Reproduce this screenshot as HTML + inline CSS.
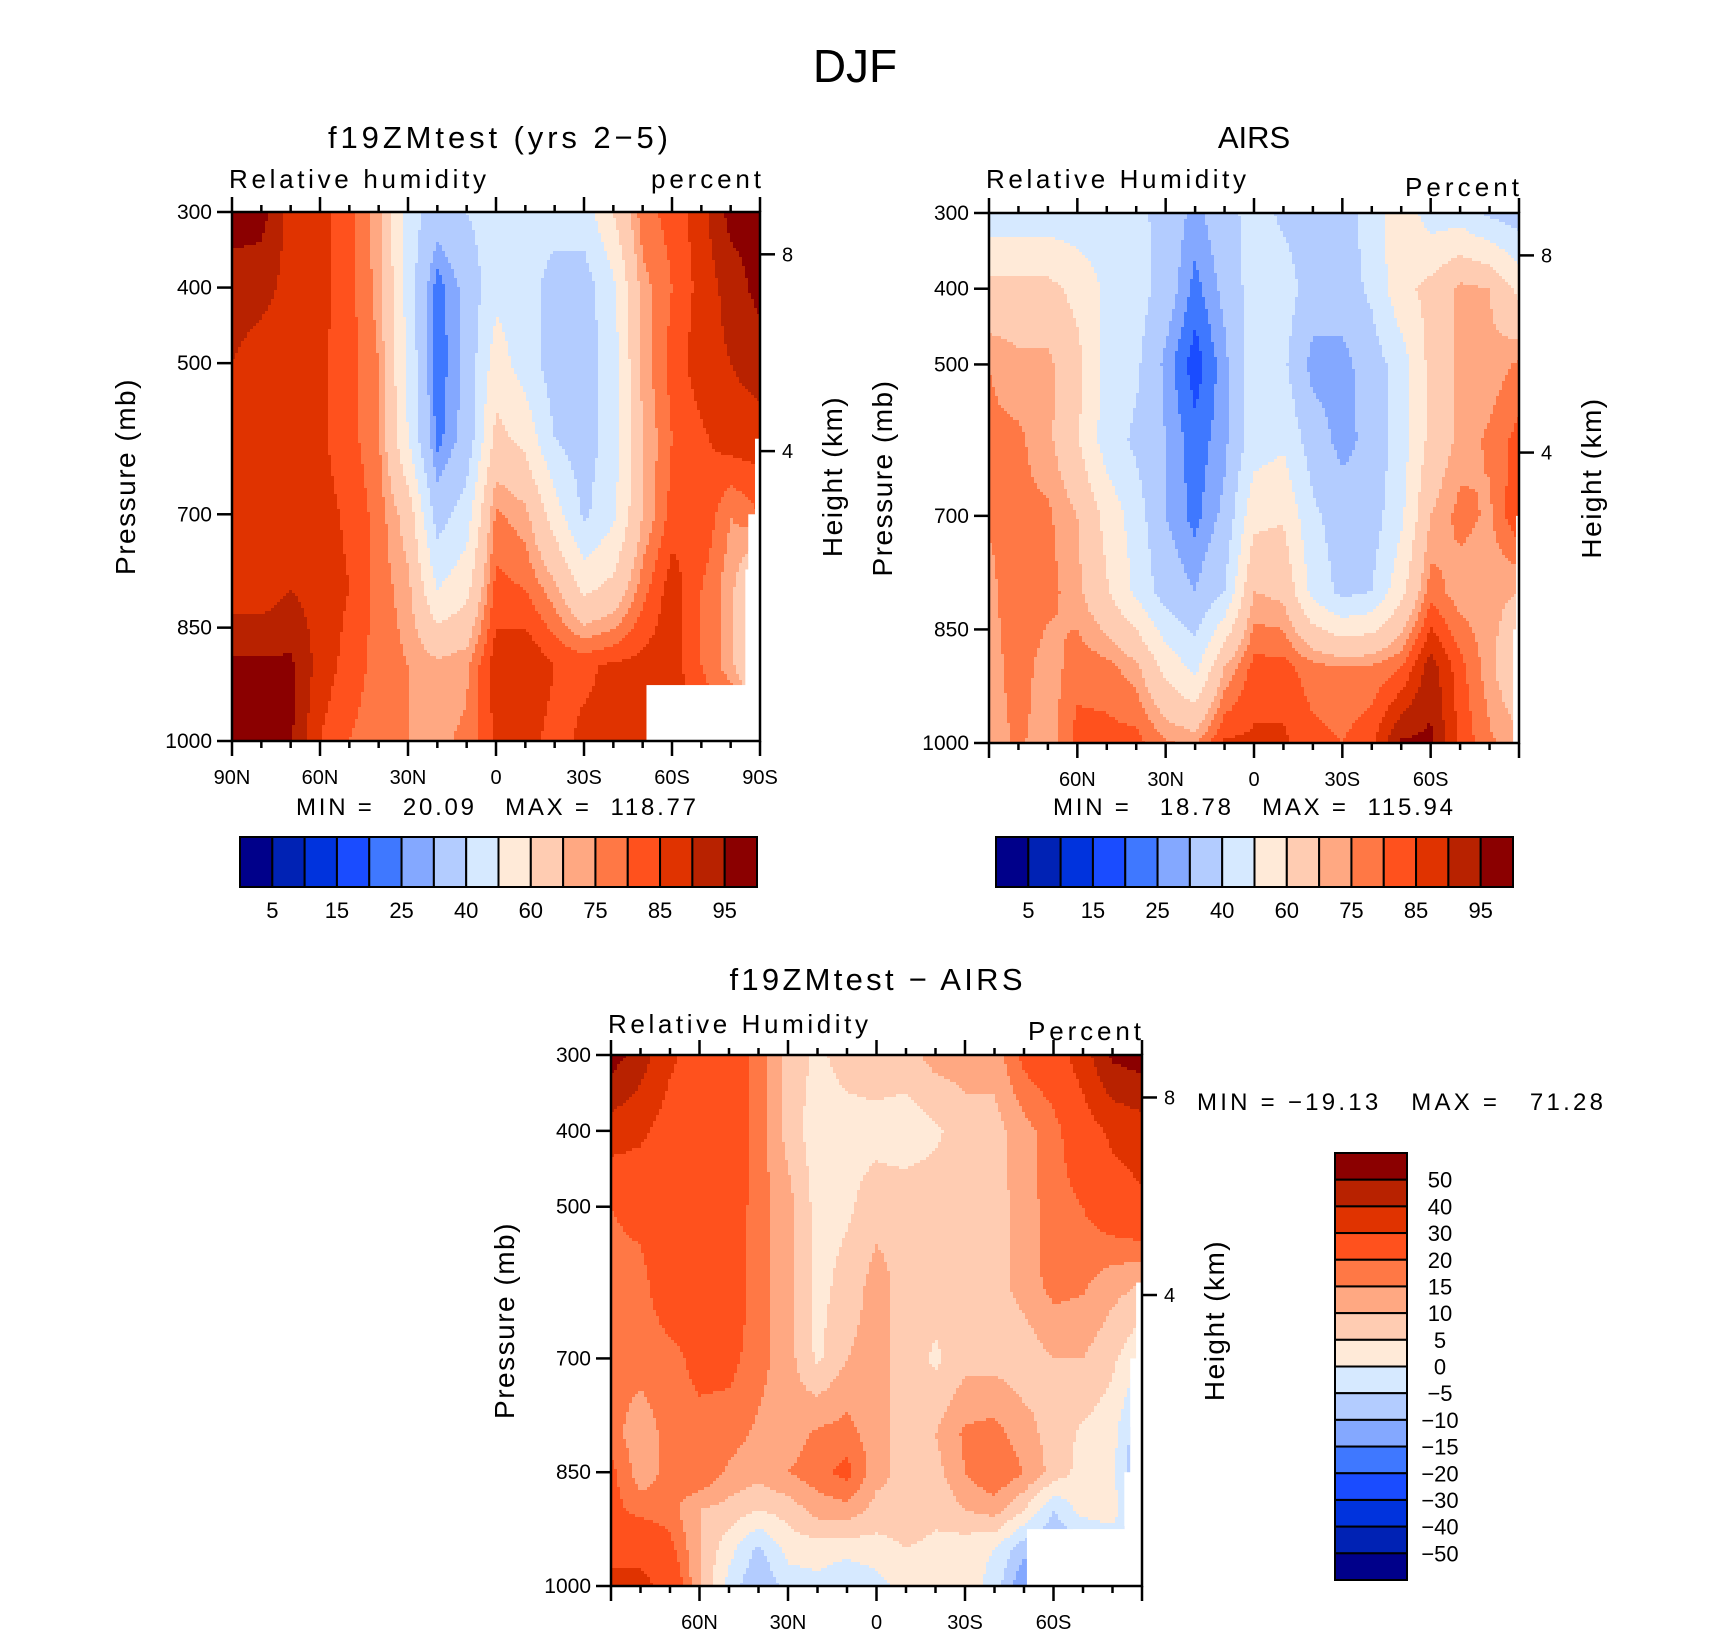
<!DOCTYPE html>
<html><head><meta charset="utf-8"><style>
html,body{margin:0;padding:0;background:#fff}
svg text{font-family:"Liberation Sans",sans-serif;fill:#000;white-space:pre}
</style></head><body>
<svg id="fig" width="1710" height="1631" viewBox="0 0 1710 1631" xmlns="http://www.w3.org/2000/svg">
<text x="855" y="82" font-size="46" text-anchor="middle">DJF</text>
<g id="p1"></g>
<g id="p2"></g>
<g id="p3"></g>
</svg>
<script>
const lats = [90,80,70,60,50,40,30,20,10,0,-10,-20,-30,-40,-50,-60,-70,-80,-90];
const pModel = [300,400,500,600,700,800,900,1000];
const model = [
[97,97,88,87,82,72,45,35,40,45,47,45,45,60,78,82,88,97,97],
[93,92,88,87,82,73,46,22,33,47,45,35,35,48,73,80,87,92,97],
[90,87,87,86,82,75,48,21,33,55,45,35,35,45,72,82,88,90,92],
[87,87,87,86,82,76,50,23,33,63,57,40,35,45,70,80,84,88,88],
[87,87,87,87,84,78,66,35,45,76,72,55,38,48,70,82,85,75,80],
[87,87,90,88,85,78,72,50,57,82,80,72,58,63,78,88,80,72,55],
[96,96,96,88,83,78,75,72,74,88,90,85,84,86,87,88,80,72,55],
[96,96,96,85,80,77,75,74,76,86,87,83,86,86,86,86,86,86,86]];
const pAirs = [300,400,500,600,700,800,900,1000];
const airs = [
[44,44,44,44,44,44,35,28,35,45,38,35,35,45,57,45,45,38,35],
[63,63,63,57,48,45,35,23,32,45,45,35,35,42,57,63,72,70,57],
[75,72,72,63,47,42,28,17,28,45,42,27,27,35,45,63,72,72,76],
[76,76,72,61,45,38,30,22,28,45,48,35,27,33,45,63,72,76,82],
[76,76,76,70,57,45,30,23,32,57,59,42,35,35,48,70,77,74,85],
[73,80,77,72,61,48,35,30,40,70,68,47,37,40,57,78,72,72,70],
[72,78,72,78,77,72,57,47,70,82,82,77,75,76,80,93,82,72,61],
[72,76,72,82,82,82,76,74,86,86,86,82,80,84,96,96,84,76,72]];
const pDiff = [300,400,500,600,700,800,850,900,950,1000];
const diff = [
[55,45,32,25,25,18,8,4,7,8,8,12,12,12,22,25,35,52,55],
[35,32,25,25,25,18,8,2,3,3,2,4,8,8,13,18,25,32,35],
[20,22,25,25,25,17,12,3,4,8,8,8,8,8,12,18,20,25,28],
[18,18,25,25,25,17,12,3,7,12,8,8,8,8,12,17,16,12,10],
[17,17,18,22,22,17,12,4,10,12,8,4,8,8,7,10,10,6,0],
[17,12,17,18,17,14,12,16,17,12,8,10,16,17,12,8,4,2,-10],
[22,12,17,20,14,12,15,18,22,12,8,8,15,20,15,8,3,1,-12],
[22,18,17,10,8,5,7,12,13,8,8,6,10,12,5,-5,2,3,-12],
[25,28,22,10,2,-6,2,3,2,3,5,4,2,0,-8,-10,-8,-5,-10],
[35,32,28,10,-2,-10,-3,-2,-5,-2,2,2,3,-2,-15,-10,-10,-10,-10]];
const levelsRH = [5,10,15,20,25,30,40,50,60,70,75,80,85,90,95];
const levelsDiff = [-50,-40,-30,-20,-15,-10,-5,0,5,10,15,20,30,40,50];
const rhLabels = ["5","15","25","40","60","75","85","95"];
const diffLabels = ["50","40","30","20","15","10","5","0","\u22125","\u221210","\u221215","\u221220","\u221230","\u221240","\u221250"];
const maskModel = [[-51.3,-90,926,1000],[-88.3,-90,600,1000],[-86,-90,700,1000],[-85,-90,773,1000]];
const maskAirs = [[-88,-90,850,1000],[-89,-90,700,1000]];
const maskDiff = [[-51,-90,925,1000],[-88,-90,600,1000],[-86,-90,700,1000],[-84,-90,850,1000]];
const colors = ['#00008A','#0022B4','#0033DD','#1A4CFF','#3F78FF','#84A8FF','#B3CCFF','#D6E9FF','#FFEAD8','#FFCCB2','#FFA882','#FF7845','#FF511D','#E03300','#B82200','#8B0000'];

const NS="http://www.w3.org/2000/svg";
function mk(tag,attrs,parent){const e=document.createElementNS(NS,tag);for(const k in attrs)e.setAttribute(k,attrs[k]);if(parent)parent.appendChild(e);return e;}
function txt(parent,x,y,s,size,anchor,name,extra){const t=mk('text',Object.assign({x:x,y:y,'font-size':size,'text-anchor':anchor||'start'},extra||{}),parent);t.textContent=s;


return t;}
function pressToHeightFrac(z){return 1013.25*Math.pow(1-2.25577e-5*z*1000,5.25588);}

function panel(g,o){
  const {x0,y0,w,h,press,data,levels,mask}=o;
  const xs=lat=>x0+(90-lat)/180*w;
  const ys=p=>y0+(p-300)/700*h;
  const field=mk('g',{'shape-rendering':'crispEdges'},g);
  
  
  const step=3;
  function val(lat,p){
    let fi=(90-lat)/10; let i=Math.max(0,Math.min(Math.floor(fi),lats.length-2)); let fx=fi-i;
    let j=0; while(j<press.length-2&&p>press[j+1])j++;
    let fy=(p-press[j])/(press[j+1]-press[j]); fy=Math.max(0,Math.min(1,fy));
    const a=data[j][i],b=data[j][i+1],c=data[j+1][i],d=data[j+1][i+1];
    return (a*(1-fx)+b*fx)*(1-fy)+(c*(1-fx)+d*fx)*fy;
  }
  function cls(v){let k=0;while(k<levels.length&&v>=levels[k])k++;return Math.min(k,15);}
  for(let py=0;py<h;py+=step){
    const hh=Math.min(step,h-py);
    const p=300+(py+hh/2)/h*700;
    let runStart=0,runC=-1;
    const flush=(end)=>{if(runC>=0){mk('rect',{x:x0+runStart,y:y0+py,width:end-runStart+0.5,height:hh+0.5,fill:colors[runC]},field);}};
    for(let px=0;px<w;px+=step){
      const lat=90-(px+Math.min(step,w-px)/2)/w*180;
      const c=cls(val(lat,p));
      if(c!==runC){flush(px);runStart=px;runC=c;}
    }
    flush(w);
  }
  mask.forEach(m=>{
    const r=mk('rect',{x:xs(m[0]),y:ys(m[2]),width:xs(m[1])-xs(m[0]),height:ys(m[3])-ys(m[2]),fill:'#fff'},g);
    
    
  });
  const frame=mk('rect',{x:x0,y:y0,width:w,height:h,fill:'none',stroke:'#000','stroke-width':2.5},g);
  
  
  const ax=mk('g',{stroke:'#000','stroke-width':2.5},g);
  
  
  for(let lat=90;lat>=-90;lat-=10){
    const L=(lat%30===0)?15:7;const x=xs(lat);
    mk('line',{x1:x,x2:x,y1:y0+h,y2:y0+h+L},ax);
    mk('line',{x1:x,x2:x,y1:y0,y2:y0-L},ax);
  }
  o.xlabels.forEach(d=>{txt(g,xs(d[0]),y0+h+43,d[1],20,'middle','x-tick-label');});
  [300,400,500,700,850,1000].forEach(p=>{
    mk('line',{x1:x0-15,x2:x0,y1:ys(p),y2:ys(p)},ax);
    txt(g,x0-20,ys(p)+7,String(p),21,'end','y-tick-label');
  });
  [8,4].forEach(z=>{
    const y=ys(pressToHeightFrac(z));
    mk('line',{x1:x0+w,x2:x0+w+15,y1:y,y2:y},ax);
    txt(g,x0+w+22,y+7,String(z),20,'start','height-tick-label');
  });
  txt(g,0,0,'Pressure (mb)',28,'middle','y-axis-title',{transform:`translate(${x0-97},${y0+h/2}) rotate(-90)`,'letter-spacing':'1.5'});
  txt(g,0,0,'Height (km)',28,'middle','right-axis-title',{transform:`translate(${x0+w+82},${y0+h/2}) rotate(-90)`,'letter-spacing':'1.5'});
}
function hbar(g,x0,y0,w,h){
  const cw=w/16;
  colors.forEach((c,i)=>{const r=mk('rect',{x:x0+i*cw,y:y0,width:cw,height:h,fill:c,stroke:'#000','stroke-width':2},g);
  
  });
  rhLabels.forEach((s,k)=>txt(g,x0+(2*k+1)*cw,y0+h+31,s,22,'middle','colorbar-label'));
}
const g1=document.getElementById('p1'),g2=document.getElementById('p2'),g3=document.getElementById('p3');
const allX=[[90,'90N'],[60,'60N'],[30,'30N'],[0,'0'],[-30,'30S'],[-60,'60S'],[-90,'90S']];
const innerX=[[60,'60N'],[30,'30N'],[0,'0'],[-30,'30S'],[-60,'60S']];
panel(g1,{x0:232,y0:212,w:528,h:529,press:pModel,data:model,levels:levelsRH,mask:maskModel,xlabels:allX});
panel(g2,{x0:989,y0:213,w:530,h:530,press:pAirs,data:airs,levels:levelsRH,mask:maskAirs,xlabels:innerX});
panel(g3,{x0:611,y0:1055,w:531,h:531,press:pDiff,data:diff,levels:levelsDiff,mask:maskDiff,xlabels:innerX});
txt(g1,498,148,'f19ZMtest (yrs 2\u22125)',31,'middle','panel-title',{textLength:340});
txt(g1,229,188,'Relative humidity',26,'start','variable-label',{textLength:257});
txt(g1,761,188,'percent',26,'end','units-label',{textLength:110});
txt(g1,496,815,'MIN =   20.09   MAX =  118.77',24,'middle','min-max-label',{textLength:400});
txt(g2,1254,148,'AIRS',31,'middle','panel-title');
txt(g2,986,188,'Relative Humidity',26,'start','variable-label',{textLength:260});
txt(g2,1519,196,'Percent',26,'end','units-label',{textLength:114});
txt(g2,1253,815,'MIN =   18.78   MAX =  115.94',24,'middle','min-max-label',{textLength:400});
txt(g3,876,990,'f19ZMtest \u2212 AIRS',31,'middle','panel-title',{textLength:293});
txt(g3,608,1033,'Relative Humidity',26,'start','variable-label',{textLength:260});
txt(g3,1141,1040,'Percent',26,'end','units-label',{textLength:113});
txt(g3,1197,1110,'MIN = \u221219.13   MAX =   71.28',24,'start','min-max-label',{textLength:406});
hbar(g1,240,837,517,50);
hbar(g2,996,837,517,50);
(function(){
  const x0=1335,y0=1153,w=72,h=427,ch=h/16;
  for(let i=0;i<16;i++){const r=mk('rect',{x:x0,y:y0+i*ch,width:w,height:ch,fill:colors[15-i],stroke:'#000','stroke-width':2},g3);
  
  }
  diffLabels.forEach((s,k)=>txt(g3,1440,y0+(k+1)*ch+8,s,22,'middle','diff-colorbar-label'));
})();
</script>
</body></html>
